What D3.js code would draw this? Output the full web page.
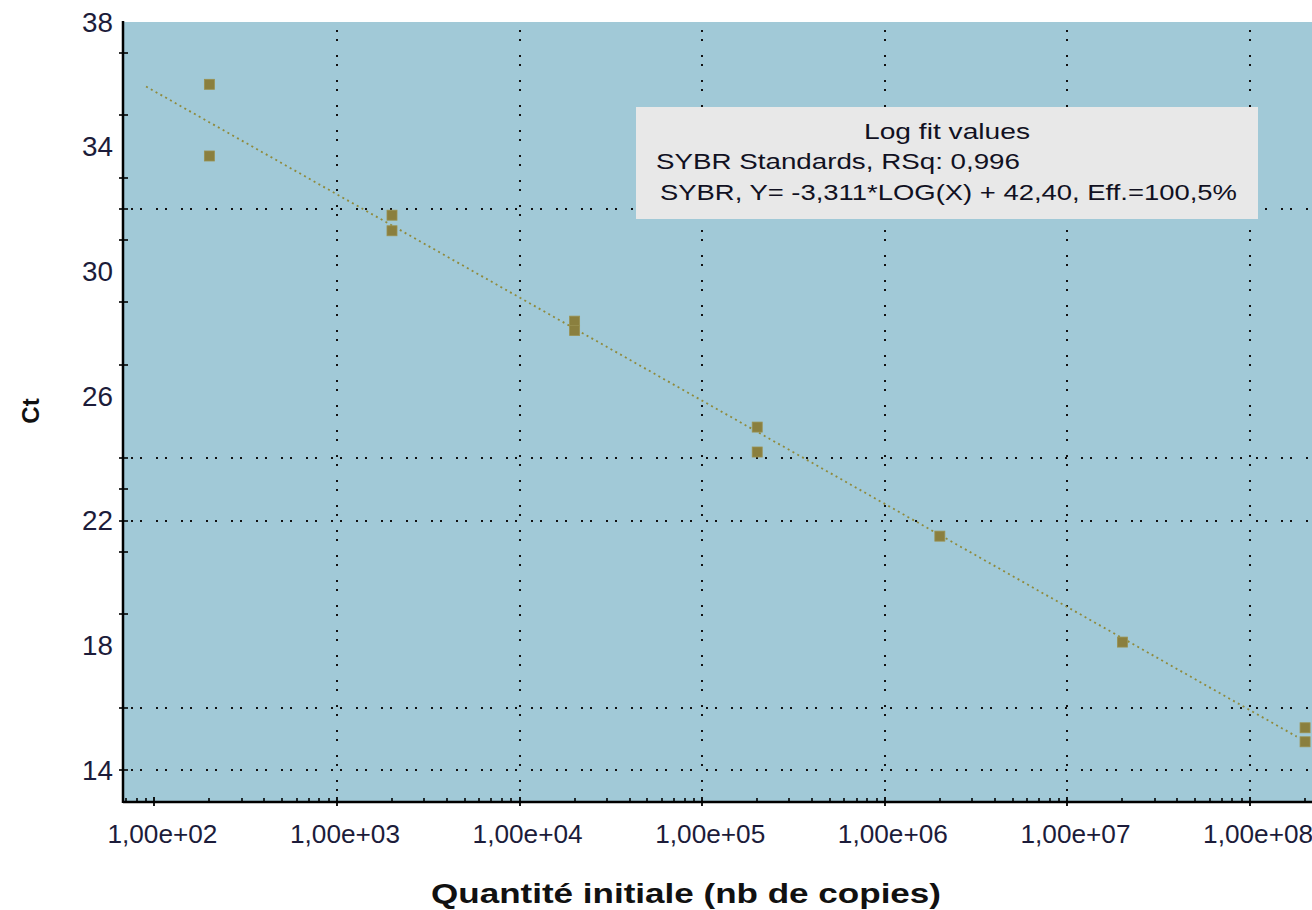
<!DOCTYPE html>
<html><head><meta charset="utf-8">
<script src="https://cdn.jsdelivr.net/npm/d3@7"></script>
<style>html,body{margin:0;padding:0;background:#fff;overflow:hidden}</style>
</head><body>
<svg id="c" width="1312" height="910"></svg>
<script>
// ---- data ----
const quantities = [2e2, 2e2, 2e3, 2e3, 2e4, 2e4, 2e5, 2e5, 2e6, 2e7, 2e8, 2e8];
const ctValues   = [36.0, 33.7, 31.8, 31.3, 28.4, 28.1, 25.0, 24.2, 21.5, 18.1, 15.35, 14.9];
const fitSlope = -3.311, fitIntercept = 42.40;
const fitRange = [90, 1.8e8];
const xTickValues = [1e2, 1e3, 1e4, 1e5, 1e6, 1e7, 1e8];
const xTickLabels = ["1,00e+02","1,00e+03","1,00e+04","1,00e+05","1,00e+06","1,00e+07","1,00e+08"];
const xGridValues = [1e3, 1e4, 1e5, 1e6, 1e7, 1e8];
const yLabelValues = [38, 34, 30, 26, 22, 18, 14];
const yMinorTicks = [37, 35, 33, 32, 31, 29, 27, 24, 23, 22, 21, 19, 16, 14];
const yGridValues = [32, 24, 22, 16, 14];
const legendLines = ["Log fit values", "SYBR Standards, RSq: 0,996", "SYBR, Y= -3,311*LOG(X) + 42,40, Eff.=100,5%"];
const xTitle = "Quantité initiale (nb de copies)";
const yTitle = "Ct";

// ---- layout ----
const L = 123, T = 22, R = 1312, B = 801;
const svg = d3.select("#c");
const x = d3.scaleLog().domain([Math.pow(10,1.828), Math.pow(10,8.339)]).range([L, R]);
const y = d3.scaleLinear().domain([13, 38]).range([B, T]);

svg.append("rect").attr("x",L).attr("y",T).attr("width",R-L).attr("height",B-T).attr("fill","#a1c9d7");

// grid
const grid = svg.append("g").attr("stroke","#111").attr("stroke-width",2).attr("stroke-dasharray","2,7,2,14");
grid.selectAll("line.v").data(xGridValues).join("line")
  .attr("x1",d=>Math.round(x(d))).attr("x2",d=>Math.round(x(d))).attr("y1",T+8).attr("y2",B);
grid.selectAll("line.h").data(yGridValues).join("line")
  .attr("y1",d=>Math.round(y(d))).attr("y2",d=>Math.round(y(d))).attr("x1",L+8).attr("x2",R);

// fit line
const fitLine = d3.line().x(d=>x(d)).y(d=>y(fitSlope*Math.log10(d)+fitIntercept));
svg.append("path").attr("d", fitLine(fitRange)).attr("fill","none")
  .attr("stroke","#8f8a3c").attr("stroke-width",1.8).attr("stroke-dasharray","2,3.5");

// points
svg.append("g").selectAll("rect").data(quantities.map((q,i)=>[q,ctValues[i]])).join("rect")
  .attr("x",d=>x(d[0])-5).attr("y",d=>y(d[1])-5).attr("width",10).attr("height",10)
  .attr("fill","#8a7f3e").attr("stroke","#9a9150").attr("stroke-width",0.8);

// legend
svg.append("rect").attr("x",636).attr("y",107).attr("width",622).attr("height",112).attr("fill","#e8e8e8");
const lg = svg.append("g").attr("font-family","Liberation Sans, Arial, sans-serif").attr("font-size",22).attr("fill","#111122");
lg.append("text").attr("x",947).attr("y",139).attr("text-anchor","middle").attr("textLength",166).attr("lengthAdjust","spacingAndGlyphs").text(legendLines[0]);
lg.append("text").attr("x",656).attr("y",169).attr("textLength",364).attr("lengthAdjust","spacingAndGlyphs").text(legendLines[1]);
lg.append("text").attr("x",660).attr("y",200).attr("textLength",577).attr("lengthAdjust","spacingAndGlyphs").text(legendLines[2]);

// axes lines
svg.append("line").attr("x1",L).attr("x2",L).attr("y1",T-1).attr("y2",B+2).attr("stroke","#000").attr("stroke-width",2.5);
svg.append("line").attr("x1",L).attr("x2",R).attr("y1",B+1).attr("y2",B+1).attr("stroke","#000").attr("stroke-width",2.5);

// y ticks
svg.append("g").selectAll("line").data(yMinorTicks).join("line")
  .attr("x1",L-4).attr("x2",L+5).attr("y1",d=>Math.round(y(d))).attr("y2",d=>Math.round(y(d)))
  .attr("stroke","#000").attr("stroke-width",1.6);
svg.append("g").attr("font-family","Liberation Sans, Arial, sans-serif").attr("font-size",27).attr("fill","#1c1c3a")
  .selectAll("text").data(yLabelValues).join("text")
  .attr("x",113).attr("y",d=>y(d)).attr("dy","0.36em").attr("text-anchor","end")
  .attr("textLength",31).attr("lengthAdjust","spacingAndGlyphs").text(d=>d);

// x ticks (log minor)
const minor = [];
for (let e=1; e<=8; e++) for (let m=2; m<=9; m++) { const v=m*Math.pow(10,e); if (x(v)>=L && x(v)<=R) minor.push(v); }
svg.append("g").selectAll("line").data(minor).join("line")
  .attr("x1",d=>Math.round(x(d))).attr("x2",d=>Math.round(x(d))).attr("y1",B-3).attr("y2",B+1)
  .attr("stroke","#000").attr("stroke-width",1.6);
svg.append("g").selectAll("line").data(xTickValues).join("line")
  .attr("x1",d=>Math.round(x(d))).attr("x2",d=>Math.round(x(d))).attr("y1",B-4).attr("y2",B+5)
  .attr("stroke","#000").attr("stroke-width",1.8);
svg.append("g").attr("font-family","Liberation Sans, Arial, sans-serif").attr("font-size",26).attr("fill","#1c1c3a")
  .selectAll("text").data(xTickValues).join("text")
  .attr("x",d=>x(d)+8).attr("y",843).attr("text-anchor","middle")
  .attr("textLength",110).attr("lengthAdjust","spacingAndGlyphs").text((d,i)=>xTickLabels[i]);

// titles
svg.append("text").attr("x",686).attr("y",903).attr("text-anchor","middle")
  .attr("font-family","Liberation Sans, Arial, sans-serif").attr("font-weight","bold").attr("font-size",27)
  .attr("textLength",510).attr("lengthAdjust","spacingAndGlyphs")
  .attr("fill","#111").text(xTitle);
svg.append("text").attr("transform","translate(39,411) rotate(-90)").attr("text-anchor","middle")
  .attr("font-family","Liberation Sans, Arial, sans-serif").attr("font-weight","bold").attr("font-size",24)
  .attr("fill","#111").text(yTitle);
</script>
</body></html>
